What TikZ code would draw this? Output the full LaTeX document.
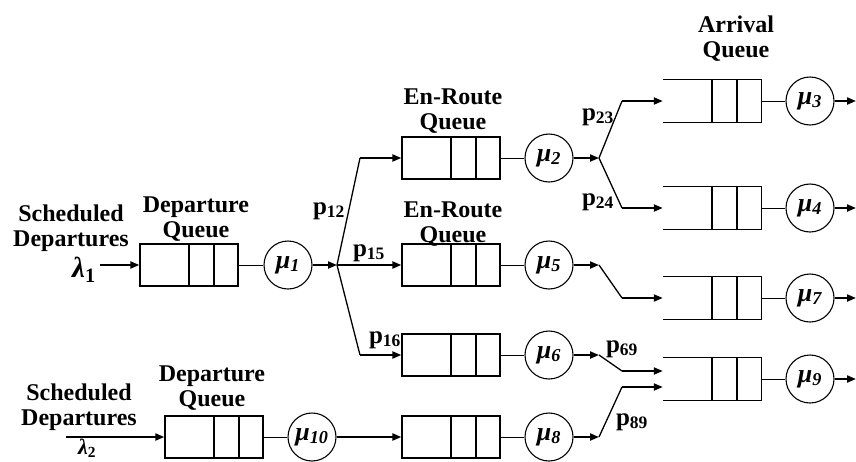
\documentclass[tikz,border=0pt]{standalone}
\usepackage{fontspec}
\setmainfont{Liberation Serif}
\usetikzlibrary{arrows.meta, positioning, calc}

\begin{document}
\begin{tikzpicture}[x=1pt, y=-1pt, >={Triangle[length=9pt,width=7pt]},
    queue/.style={rectangle, minimum width=98pt, minimum height=42pt, inner sep=0pt,
        path picture={
            \draw[line width=1.3pt] ([xshift=-49pt]path picture bounding box.north east) -- ([xshift=-49pt]path picture bounding box.south east);
            \draw[line width=1.3pt] ([xshift=-24pt]path picture bounding box.north east) -- ([xshift=-24pt]path picture bounding box.south east);}},
    closedq/.style={queue, draw, line width=1.3pt},
    server/.style={circle, draw, line width=1.1pt, minimum size=48pt, inner sep=0pt, font=\fontsize{26}{28}\selectfont\bfseries\itshape},
    lbl/.style={align=center, inner sep=0pt, font=\fontsize{24}{25}\selectfont\bfseries},
    prob/.style={inner sep=0pt, font=\fontsize{25}{26}\selectfont\bfseries},
    flow/.style={->, line width=2pt},
    branch/.style={line width=1.3pt},
    link/.style={line width=1pt}]
    \useasboundingbox (0,0) rectangle (856,461);

    % queues
    \node[closedq] (dq1) at (189,265) {};
    \node[closedq] (dq10) at (214,437) {};
    \node[closedq] (eq2) at (451,158) {};
    \node[closedq] (eq5) at (451,265) {};
    \node[closedq] (eq6) at (451,355) {};
    \node[closedq] (eq8) at (451,437) {};
    \node[queue] (aq3) at (712,101) {};
    \node[queue] (aq4) at (712,208) {};
    \node[queue] (aq7) at (712,298) {};
    \node[queue] (aq9) at (712,379) {};
    \foreach \q in {aq3,aq4,aq7,aq9}
        \draw[line width=1.3pt] (\q.north west) -- (\q.north east) -- (\q.south east) -- (\q.south west);

    % servers
    \node[server] (s1) at (288,265) {μ\textsubscript{1}};
    \node[server] (s10) at (312,437) {μ\textsubscript{10}};
    \node[server] (s2) at (549,158) {μ\textsubscript{2}};
    \node[server] (s5) at (549,265) {μ\textsubscript{5}};
    \node[server] (s6) at (549,355) {μ\textsubscript{6}};
    \node[server] (s8) at (549,437) {μ\textsubscript{8}};
    \node[server] (s3) at (810,101) {μ\textsubscript{3}};
    \node[server] (s4) at (810,208) {μ\textsubscript{4}};
    \node[server] (s7) at (810,298) {μ\textsubscript{7}};
    \node[server] (s9) at (810,379) {μ\textsubscript{9}};

    % labels
    \node[lbl] (sd1) at (71,228) {Scheduled\\Departures};
    \node[lbl] (sd10) at (79,407) {Scheduled\\Departures};
    \node[lbl] (dl1) at (196,219) {Departure\\Queue};
    \node[lbl] (dl10) at (212,388) {Departure\\Queue};
    \node[lbl] (el2) at (453,111) {En-Route\\Queue};
    \node[lbl] (el5) at (453,224) {En-Route\\Queue};
    \node[lbl] (al) at (736,39) {Arrival\\Queue};
    \node[prob, font=\fontsize{29}{30}\selectfont\bfseries] (lam1) at (84,270) {\itshape λ\textsubscript{\upshape 1}};
    \node[prob, font=\fontsize{22}{23}\selectfont\bfseries, anchor=north] (lam10) at (87,439) {\itshape λ\textsubscript{\upshape 2}};
    \node[prob] (p12) at (329,211) {p\textsubscript{12}};
    \node[prob] (p15) at (369,253) {p\textsubscript{15}};
    \node[prob] (p16) at (385,340) {p\textsubscript{16}};
    \node[prob] (p23) at (598,117) {p\textsubscript{23}};
    \node[prob] (p24) at (598,202) {p\textsubscript{24}};
    \node[prob] (p69) at (622,349) {p\textsubscript{69}};
    \node[prob] (p89) at (632,422) {p\textsubscript{89}};

    % routing points
    \coordinate (in1) at (100,265);
    \coordinate (in10) at (66,437);
    \coordinate (b1) at (337,265);
    \coordinate (k12) at (360,158);
    \coordinate (k16) at (360,355);
    \coordinate (b2) at (599,158);
    \coordinate (k23) at (622,101);
    \coordinate (k24) at (622,208);
    \coordinate (b5) at (599,265);
    \coordinate (k57) at (622,298);
    \coordinate (b6) at (599,355);
    \coordinate (k69) at (622,371);
    \coordinate (b8) at (599,437);
    \coordinate (k89) at (622,387);
    \coordinate (rim) at (856,0);

    % queue to server
    \draw[link] (dq1) -- (s1);
    \draw[link] (dq10) -- (s10);
    \draw[link] (eq2) -- (s2);
    \draw[link] (eq5) -- (s5);
    \draw[link] (eq6) -- (s6);
    \draw[link] (eq8) -- (s8);
    \draw[link] (aq3) -- (s3);
    \draw[link] (aq4) -- (s4);
    \draw[link] (aq7) -- (s7);
    \draw[link] (aq9) -- (s9);

    % flows
    \draw[flow] (in1) -- (dq1);
    \draw[flow] (in10) -- (dq10);
    \draw[flow] (s1) -- (b1);
    \draw[branch] (b1) -- (k12);
    \draw[flow] (k12) -- (eq2);
    \draw[flow] (b1) -- (eq5);
    \draw[branch] (b1) -- (k16);
    \draw[flow] (k16) -- (eq6);
    \draw[flow] (s10) -- (eq8);
    \draw[flow] (s2) -- (b2);
    \draw[branch] (b2) -- (k23);
    \draw[flow] (k23) -- (aq3);
    \draw[branch] (b2) -- (k24);
    \draw[flow] (k24) -- (aq4);
    \draw[flow] (s5) -- (b5);
    \draw[branch] (b5) -- (k57);
    \draw[flow] (k57) -- (aq7);
    \draw[flow] (s6) -- (b6);
    \draw[branch] (b6) -- (k69);
    \draw[flow] (k69) -- (k69 -| aq9.west);
    \draw[flow] (s8) -- (b8);
    \draw[branch] (b8) -- (k89);
    \draw[flow] (k89) -- (k89 -| aq9.west);
    \draw[flow] (s3) -- (s3 -| rim);
    \draw[flow] (s4) -- (s4 -| rim);
    \draw[flow] (s7) -- (s7 -| rim);
    \draw[flow] (s9) -- (s9 -| rim);
\end{tikzpicture}
\end{document}
